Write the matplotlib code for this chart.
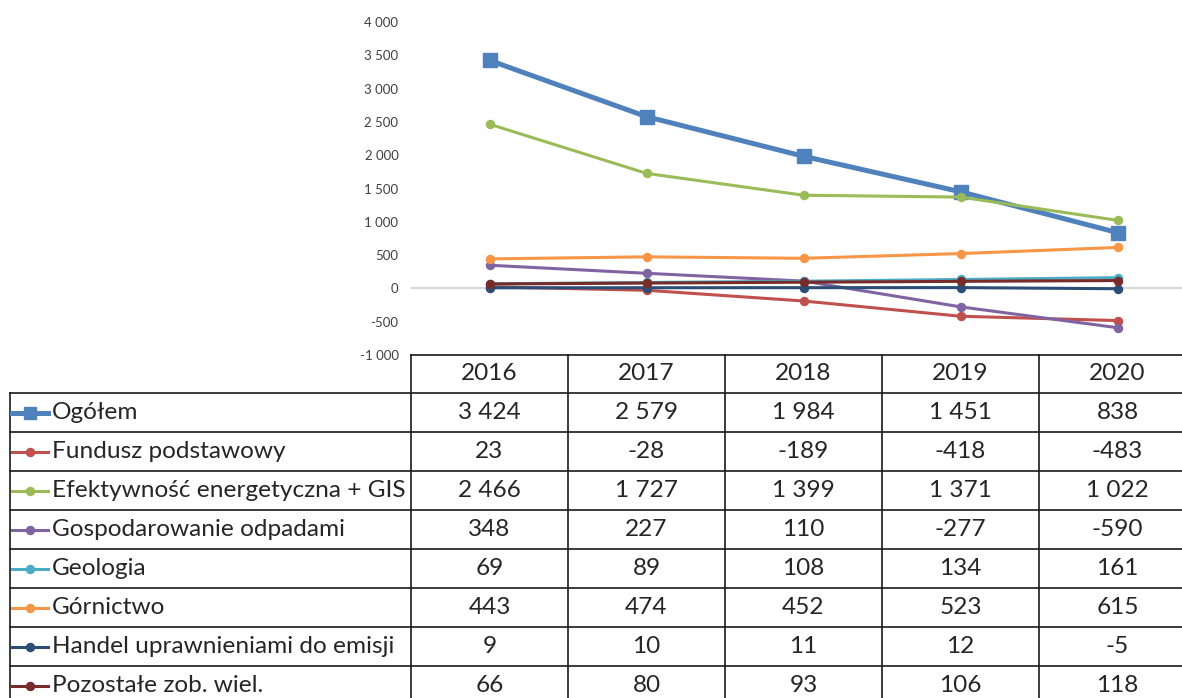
import matplotlib

matplotlib.use("Agg")
import matplotlib.pyplot as plt  # noqa: E402
from matplotlib.transforms import blended_transform_factory  # noqa: E402

plt.rcParams["font.family"] = ["Lato", "DejaVu Sans"]

W, H = 1182, 698

years = ["2016", "2017", "2018", "2019", "2020"]

names = [
    "Ogółem",
    "Fundusz podstawowy",
    "Efektywność energetyczna + GIS",
    "Gospodarowanie odpadami",
    "Geologia",
    "Górnictwo",
    "Handel uprawnieniami do emisji",
    "Pozostałe zob. wiel.",
]
ogolem = [3424, 2579, 1984, 1451, 838]
fundusz = [23, -28, -189, -418, -483]
efektywnosc = [2466, 1727, 1399, 1371, 1022]
odpady = [348, 227, 110, -277, -590]
geologia = [69, 89, 108, 134, 161]
gornictwo = [443, 474, 452, 523, 615]
handel = [9, 10, 11, 12, -5]
pozostale = [66, 80, 93, 106, 118]

series = [ogolem, fundusz, efektywnosc, odpady, geologia, gornictwo, handel, pozostale]
colors = ["#4F81BD", "#C0504D", "#9BBB59", "#8064A2", "#4BACC6", "#F79646", "#2C4D75", "#772C2A"]


def fmt(v):
    return f"{v:,}".replace(",", " ")


fig = plt.figure(figsize=(W / 100, H / 100), dpi=100)

# chart area: left edge at x=411 px, one category = 157 px, 4000..-1000 spans y 22..355
ax = fig.add_axes([411 / W, (H - 355) / H, 785 / W, 333 / H])
ax.set_xlim(-0.5, 4.5)
ax.set_ylim(-1000, 4000)
ax.axhline(0, color="#D9D9D9", lw=1.5, zorder=0)
x = range(len(years))
for i, (vals, c) in enumerate(zip(series, colors)):
    if i == 0:
        ax.plot(x, vals, color=c, lw=3.6, marker="s", ms=9.5, zorder=2 + i)
    else:
        ax.plot(x, vals, color=c, lw=2.2, marker="o", ms=5.8, zorder=2 + i)
ax.set_yticks(range(-1000, 4001, 500))
ax.set_yticklabels([fmt(v) for v in range(-1000, 4001, 500)])
ax.set_xticks([])
ax.tick_params(axis="y", length=0, pad=9, labelsize=9.5, labelcolor="#404040")
for s in ax.spines.values():
    s.set_visible(False)

# data table drawn in pixel coordinates below the chart
tab = fig.add_axes([0, 0, 1, 1])
tab.set_xlim(0, W)
tab.set_ylim(H, 0)
tab.axis("off")
tr = blended_transform_factory(ax.transData, tab.transData)

line_kw = dict(color="#1a1a1a", lw=1.2)
txt_color = "#262626"
fs = 17.6
top, head_bot, row_h = 355, 393, 39
n_rows = len(names)
bottom = head_bot + row_h * n_rows

# horizontal lines
tab.plot([411, W + 20], [top, top], **line_kw)
for k in range(n_rows + 1):
    y = head_bot + row_h * k
    tab.plot([10, W + 20], [y, y], **line_kw)
# vertical lines
tab.plot([10, 10], [head_bot, bottom], **line_kw)
for j in range(len(years)):
    tab.plot([j - 0.5, j - 0.5], [top, bottom], transform=tr, **line_kw)

# header
for j, yr in enumerate(years):
    tab.text(j, (top + head_bot) / 2, yr, transform=tr, ha="center", va="center",
             fontsize=fs, color=txt_color)

# rows
for k, (name, vals, c) in enumerate(zip(names, series, colors)):
    yc = head_bot + row_h * k + row_h / 2
    if k == 0:
        tab.plot([12, 48], [yc, yc], color=c, lw=3.6)
        tab.plot([30], [yc], color=c, marker="s", ms=9)
    else:
        tab.plot([12, 48], [yc, yc], color=c, lw=2.2)
        tab.plot([30], [yc], color=c, marker="o", ms=5.8)
    tab.text(52, yc, name, ha="left", va="center", fontsize=fs, color=txt_color)
    for j, v in enumerate(vals):
        tab.text(j, yc, fmt(v), transform=tr, ha="center", va="center",
                 fontsize=fs, color=txt_color)

fig.savefig("out.png", dpi=100)
plt.close(fig)
